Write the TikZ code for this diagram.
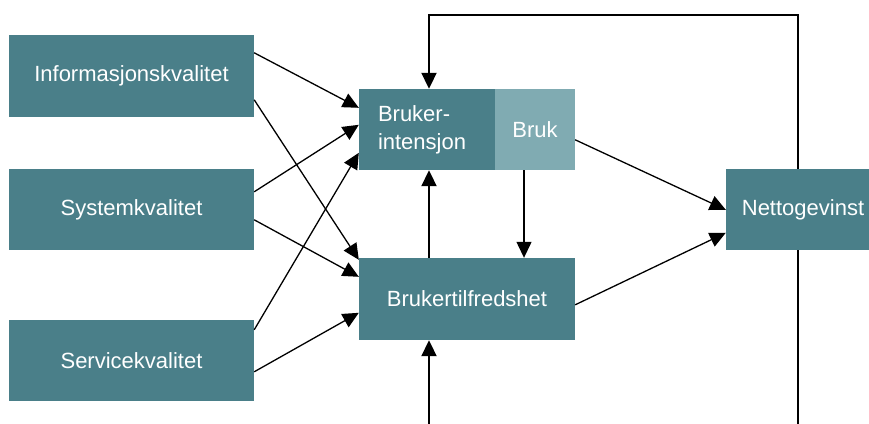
\documentclass[tikz,border=0pt]{standalone}
\usepackage{fontspec}
\setmainfont{Liberation Sans}
\usetikzlibrary{arrows.meta,calc}
\definecolor{teal1}{HTML}{4A7F89}
\definecolor{teal2}{HTML}{80ABB2}
\begin{document}
\begin{tikzpicture}[x=1pt,y=-1pt,
  box/.style={fill=teal1,draw=none,text=white,font=\fontsize{22}{26}\selectfont,inner sep=0pt,anchor=center},
  thin/.style={line width=1.3pt,-{Triangle[length=16pt,width=15pt]}},
  thick/.style={line width=2pt,-{Triangle[length=16pt,width=15pt]}},
  plain/.style={line width=2pt}]
\useasboundingbox (0,0) rectangle (869,423);
\node[box,minimum width=245pt,minimum height=82pt] (info) at (131.5,76) {Informasjonskvalitet};
\node[box,minimum width=245pt,minimum height=81pt] (sys) at (131.5,209.5) {Systemkvalitet};
\node[box,minimum width=245pt,minimum height=81pt] (serv) at (131.5,360.5) {Servicekvalitet};
\node[box,minimum height=81pt,align=left,inner xsep=19pt,text width=98pt,font=\fontsize{22}{28}\selectfont] (int) at (427,129.5) {Bruker-\\intensjon};
\node[box,fill=teal2,minimum width=80pt,minimum height=81pt] (bruk) at (535,129.5) {Bruk};
\node[box,minimum width=216pt,minimum height=82pt] (tilf) at (467,299) {Brukertilfredshet};
\node[box,minimum width=154pt,minimum height=81pt] (netto) at (803,209.5) {Nettogevinst};
\coordinate (bl) at (429,424);
\coordinate (br) at (798,424);
% left arrows
\draw[thin] ($(info.north east)+(0,18)$) -- ($(int.north west)+(0,19)$);
\draw[thin] ($(info.north east)+(0,65)$) -- ($(tilf.north west)+(0,2)$);
\draw[thin] ($(sys.north east)+(0,23)$) -- ($(int.north west)+(0,36)$);
\draw[thin] ($(sys.north east)+(0,51)$) -- ($(tilf.north west)+(0,19)$);
\draw[thin] ($(serv.north east)+(0,10)$) -- ($(int.north west)+(0,64)$);
\draw[thin] ($(serv.north east)+(0,52)$) -- ($(tilf.north west)+(0,55)$);
% right arrows
\draw[thin] ($(bruk.north east)+(0,51)$) -- ($(netto.north west)+(0,41)$);
\draw[thin] ($(tilf.north east)+(0,47)$) -- ($(netto.north west)+(0,64)$);
% verticals
\draw[thick] (tilf.north west -| 429,0) -- (int.south west -| 429,0);
\draw[thin] (bruk.south west -| 524,0) -- (tilf.north west -| 524,0);
\draw[thick] (bl) -- (tilf.south west -| 429,0);
\draw[plain] (netto.south west -| 798,0) -- (br);
\draw[thick] (netto.north west -| 798,0) -- (798,15) -- (429,15) -- (int.north west -| 429,0);
\end{tikzpicture}
\end{document}
